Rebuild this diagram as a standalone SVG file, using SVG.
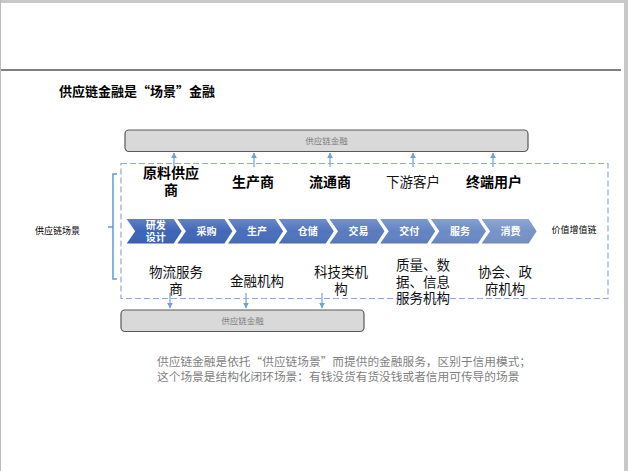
<svg xmlns="http://www.w3.org/2000/svg" width="628" height="471" viewBox="0 0 628 471">
<defs>
<style>
.cjk{font-family:"Noto Sans CJK SC","Noto Sans",sans-serif;}
.ent{font-size:14px;font-weight:bold;fill:#000;text-anchor:middle;}
.sub{font-size:13.5px;fill:#111;text-anchor:middle;}
.chev-t{font-size:10px;font-weight:bold;fill:#fff;text-anchor:middle;}
.box{fill:#d9d9d9;stroke:#595959;stroke-width:1.2;}
.boxt{font-size:8.5px;fill:#7f7f7f;text-anchor:middle;}
.arr{stroke:#8db4e2;stroke-width:1.5;fill:none;}
.small{font-size:9px;fill:#000;}
.cap{font-size:11.7px;fill:#7f7f7f;}
</style>
<marker id="ah" viewBox="0 0 10 10" refX="9" refY="5" markerWidth="4" markerHeight="4" orient="auto">
<path d="M0,0 L10,5 L0,10 z" fill="#6fa0d8"/>
</marker>
<linearGradient id="gl" x1="0" y1="0" x2="0" y2="1">
<stop offset="0" stop-color="#fff" stop-opacity="0.18"/>
<stop offset="0.5" stop-color="#fff" stop-opacity="0"/>
<stop offset="1" stop-color="#000" stop-opacity="0.06"/>
</linearGradient>
</defs>
<rect width="628" height="471" fill="#fff"/>
<rect x="0" y="0" width="628" height="3" fill="#c8c8c8"/>
<rect x="0" y="0" width="1" height="471" fill="#bdbdbd"/>
<rect x="624" y="0" width="4" height="471" fill="#c8c8c8"/>
<rect x="1" y="69" width="620" height="2" fill="#808080"/>

<text x="59" y="96" class="cjk" font-size="13" font-weight="bold" fill="#000">供应链金融是“场景”金融</text>

<g id="finance-top">
<rect x="125" y="130" width="403" height="21.5" rx="4" class="box"/>
<text x="326.5" y="144" class="cjk boxt">供应链金融</text>
</g>

<g id="scene-box">
<rect x="121" y="163.5" width="487" height="135" fill="none" stroke="#8eaadb" stroke-width="1.2" stroke-dasharray="6,3"/>
</g>

<g id="connectors">
<line x1="174" y1="167" x2="174" y2="153" class="arr" marker-end="url(#ah)"/>
<line x1="254" y1="167" x2="254" y2="153" class="arr" marker-end="url(#ah)"/>
<line x1="330" y1="167" x2="330" y2="153" class="arr" marker-end="url(#ah)"/>
<line x1="413" y1="167" x2="413" y2="153" class="arr" marker-end="url(#ah)"/>
<line x1="493" y1="167" x2="493" y2="153" class="arr" marker-end="url(#ah)"/>
<line x1="170" y1="293" x2="170" y2="308" class="arr" marker-end="url(#ah)"/>
<line x1="246" y1="293" x2="246" y2="308" class="arr" marker-end="url(#ah)"/>
<line x1="322" y1="293" x2="322" y2="308" class="arr" marker-end="url(#ah)"/>
</g>

<g id="bracket">
<path d="M117,174 H113 V279 H117 M113,227 H108" fill="none" stroke="#5b9bd5" stroke-width="1.5"/>
</g>
<g id="scene-label"><text x="57.5" y="234" class="cjk small" text-anchor="middle">供应链场景</text></g>

<g id="entities" class="cjk">
<g id="e1"><text x="171" y="178" class="ent">原料供应</text><text x="171" y="195" class="ent">商</text></g>
<g id="e2"><text x="253" y="187" class="ent">生产商</text></g>
<g id="e3"><text x="330" y="187" class="ent">流通商</text></g>
<g id="e4"><text x="413" y="187" class="sub" font-size="14" fill="#333">下游客户</text></g>
<g id="e5"><text x="494" y="187" class="ent">终端用户</text></g>
</g>

<g id="chevrons" class="cjk">
<g id="c1"><path d="M126.7,219 H173.7 L181.7,231.2 L173.7,243.5 H126.7 L135.2,231.2 Z" fill="#3d64b6"/><path d="M126.7,219 H173.7 L181.7,231.2 L173.7,243.5 H126.7 L135.2,231.2 Z" fill="url(#gl)"/><text x="155.7" y="228.5" class="chev-t">研发</text><text x="155.7" y="241" class="chev-t">设计</text></g>
<g id="c2"><path d="M177.4,219 H224.4 L232.4,231.2 L224.4,243.5 H177.4 L185.9,231.2 Z" fill="#4368b8"/><path d="M177.4,219 H224.4 L232.4,231.2 L224.4,243.5 H177.4 L185.9,231.2 Z" fill="url(#gl)"/><text x="206.4" y="235" class="chev-t">采购</text></g>
<g id="c3"><path d="M228.1,219 H275.1 L283.1,231.2 L275.1,243.5 H228.1 L236.6,231.2 Z" fill="#4a6ebb"/><path d="M228.1,219 H275.1 L283.1,231.2 L275.1,243.5 H228.1 L236.6,231.2 Z" fill="url(#gl)"/><text x="257.1" y="235" class="chev-t">生产</text></g>
<g id="c4"><path d="M278.8,219 H325.8 L333.8,231.2 L325.8,243.5 H278.8 L287.3,231.2 Z" fill="#5174bd"/><path d="M278.8,219 H325.8 L333.8,231.2 L325.8,243.5 H278.8 L287.3,231.2 Z" fill="url(#gl)"/><text x="307.8" y="235" class="chev-t">仓储</text></g>
<g id="c5"><path d="M329.5,219 H376.5 L384.5,231.2 L376.5,243.5 H329.5 L338,231.2 Z" fill="#597bc0"/><path d="M329.5,219 H376.5 L384.5,231.2 L376.5,243.5 H329.5 L338,231.2 Z" fill="url(#gl)"/><text x="358.5" y="235" class="chev-t">交易</text></g>
<g id="c6"><path d="M380.2,219 H427.2 L435.2,231.2 L427.2,243.5 H380.2 L388.7,231.2 Z" fill="#6283c3"/><path d="M380.2,219 H427.2 L435.2,231.2 L427.2,243.5 H380.2 L388.7,231.2 Z" fill="url(#gl)"/><text x="409.2" y="235" class="chev-t">交付</text></g>
<g id="c7"><path d="M430.9,219 H477.9 L485.9,231.2 L477.9,243.5 H430.9 L439.4,231.2 Z" fill="#6c8bc6"/><path d="M430.9,219 H477.9 L485.9,231.2 L477.9,243.5 H430.9 L439.4,231.2 Z" fill="url(#gl)"/><text x="459.9" y="235" class="chev-t">服务</text></g>
<g id="c8"><path d="M481.6,219 H528.6 L536.6,231.2 L528.6,243.5 H481.6 L490.1,231.2 Z" fill="#7893c9"/><path d="M481.6,219 H528.6 L536.6,231.2 L528.6,243.5 H481.6 L490.1,231.2 Z" fill="url(#gl)"/><text x="510.6" y="235" class="chev-t">消费</text></g>
</g>
<g id="value-label"><text x="574" y="233" class="cjk small" text-anchor="middle">价值增值链</text></g>

<g id="support" class="cjk">
<g id="s1"><text x="176" y="277" class="sub">物流服务</text><text x="176" y="294" class="sub">商</text></g>
<g id="s2"><text x="257" y="286" class="sub">金融机构</text></g>
<g id="s3"><text x="341" y="277" class="sub">科技类机</text><text x="341" y="294" class="sub">构</text></g>
<g id="s4"><text x="423" y="270" class="sub">质量、数</text><text x="423" y="286.5" class="sub">据、信息</text><text x="423" y="303" class="sub">服务机构</text></g>
<g id="s5"><text x="505" y="277" class="sub">协会、政</text><text x="505" y="294" class="sub">府机构</text></g>
</g>

<g id="finance-bottom">
<rect x="121" y="310" width="243" height="21.5" rx="4" class="box"/>
<text x="242.5" y="324" class="cjk boxt">供应链金融</text>
</g>

<g id="caption" class="cjk">
<text x="157" y="366" class="cap">供应链金融是依托“供应链场景”而提供的金融服务，区别于信用模式；</text>
<text x="157" y="381" class="cap">这个场景是结构化闭环场景：有钱没货有货没钱或者信用可传导的场景</text>
</g>
</svg>
